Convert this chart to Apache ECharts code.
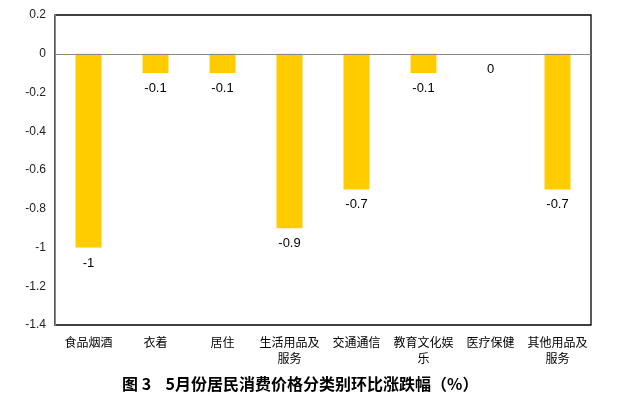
<!DOCTYPE html>
<html><head><meta charset="utf-8">
<script src="https://cdn.jsdelivr.net/npm/echarts@6/dist/echarts.min.js"></script>
<style>html,body{margin:0;padding:0;background:#fff}#c{width:631px;height:403px}</style>
</head><body><div id="c"></div>
<script>
var categories = ['食品烟酒','衣着','居住','生活用品及\n服务','交通通信','教育文化娱\n乐','医疗保健','其他用品及\n服务'];
var values = [-1, -0.1, -0.1, -0.9, -0.7, -0.1, 0, -0.7];
var yTicks = {min: -1.4, max: 0.2, interval: 0.2};
var titleText = '图 3    5月份居民消费价格分类别环比涨跌幅（%）';

var chart = echarts.init(document.getElementById('c'));
var font = '"Noto Sans CJK SC", "Liberation Sans", sans-serif';
chart.setOption({
  animation: false,
  title: {text: titleText, left: 117, top: 371,
    textStyle: {fontFamily: font, fontSize: 16, fontWeight: 'bold', color: '#000'}},
  grid: {left: 55, right: 40, top: 15, bottom: 78, show: true, borderColor: '#000', borderWidth: 1.3, containLabel: false},
  xAxis: {type: 'category', data: categories,
    axisLine: {show: false, onZero: false}, axisTick: {show: false},
    axisLabel: {fontFamily: font, fontSize: 12, color: '#000', margin: 9, interval: 0, lineHeight: 16}},
  yAxis: {type: 'value', min: yTicks.min, max: yTicks.max, interval: yTicks.interval,
    axisLine: {show: true, lineStyle: {color: '#888'}}, axisTick: {show: false}, splitLine: {show: false},
    axisLabel: {fontFamily: '"Liberation Sans", sans-serif', fontSize: 12, color: '#222', margin: 9,
      formatter: function(v){ return String(Math.round(v*10)/10); }}},
  series: [{type: 'bar', data: values, barWidth: 26,
    itemStyle: {color: '#FFCC00'},
    label: {show: true, position: 'bottom', distance: 9, fontFamily: '"Liberation Sans", sans-serif', fontSize: 13, color: '#000',
      formatter: function(p){ return String(p.value); }},
    markLine: {silent: true, symbol: 'none', label: {show: false}, lineStyle: {color: '#888', width: 1, type: 'solid'},
      data: [{yAxis: 0}]}
  }]
});
</script></body></html>
